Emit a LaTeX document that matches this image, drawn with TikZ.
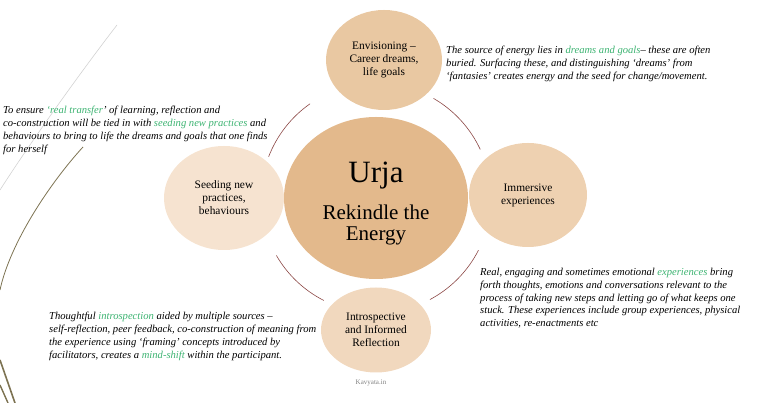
\documentclass[tikz,border=0pt]{standalone}
\usepackage{fontspec}
\setmainfont{Liberation Serif}
\usetikzlibrary{shapes.geometric}
\definecolor{urjatan}{RGB}{227,185,140}
\definecolor{envtan}{RGB}{233,200,162}
\definecolor{immtan}{RGB}{238,209,177}
\definecolor{reftan}{RGB}{241,216,190}
\definecolor{seedtan}{RGB}{246,227,208}
\definecolor{arcred}{RGB}{140,72,70}
\definecolor{keygreen}{RGB}{60,179,113}
\definecolor{swoosh}{RGB}{125,115,82}
\newcommand{\hl}[1]{\textcolor{keygreen}{#1}}
\begin{document}
\begin{tikzpicture}[x=1pt,y=1pt,
    bubble/.style={ellipse,inner sep=0pt,align=center,font=\fontsize{11.4}{13}\selectfont},
    note/.style={anchor=north west,inner sep=0pt,align=left,font=\fontsize{10.6}{12.8}\selectfont\itshape},
    link/.style={draw=arcred,line width=0.6pt}]
\useasboundingbox(0,0)rectangle(768,403);
% side swooshes
\draw[gray!35,line width=0.6pt](117,378)..controls(80,330)and(30,260)..(0,213);
\draw[swoosh,line width=0.8pt](83,256)..controls(50,220)and(10,160)..(0,113);
\draw[swoosh,line width=1.6pt](0,43)--(15,0);
\draw[swoosh,line width=1.4pt](0,18)--(8,0);
% circles
\node[bubble,fill=urjatan,minimum width=184pt,minimum height=162pt](urja)at(376,205){};
\node[align=center,font=\fontsize{21}{22}\selectfont](urjatitle)at([yshift=-6pt]urja.center){%
    \fontsize{31}{34}\selectfont Urja\\[15pt]Rekindle the\\[-1pt]Energy};
\node[bubble,fill=envtan,minimum width=116pt,minimum height=100pt](envision)at(384,343){Envisioning –\\Career dreams,\\life goals};
\node[bubble,fill=immtan,minimum width=118pt,minimum height=104pt](immerse)at(528,208){Immersive\\experiences};
\node[bubble,fill=reftan,minimum width=110pt,minimum height=85pt](reflect)at(376,73){Introspective\\and Informed\\Reflection};
\node[bubble,fill=seedtan,minimum width=120pt,minimum height=104pt](seed)at(224,205){Seeding new\\practices,\\behaviours};
% arcs between circles
\draw[link]([shift={(125:115pt)}]urja.center)arc[start angle=125,end angle=159,radius=115pt];
\draw[link]([shift={(60:115pt)}]urja.center)arc[start angle=60,end angle=25,radius=115pt];
\draw[link]([shift={(-27:115pt)}]urja.center)arc[start angle=-27,end angle=-62,radius=115pt];
\draw[link]([shift={(210:115pt)}]urja.center)arc[start angle=210,end angle=243,radius=115pt];
% notes
\node[note](envnote)at(446,357){The source of energy lies in \hl{dreams and goals}– these are often\\
    buried. Surfacing these, and distinguishing ‘dreams’ from\\
    ‘fantasies’ creates energy and the seed for change/movement.};
\node[note](seednote)at(3,297){To ensure \hl{‘real transfer}’ of learning, reflection and\\
    co-construction will be tied in with \hl{seeding new practices} and\\
    behaviours to bring to life the dreams and goals that one finds\\
    for herself};
\node[note](immnote)at(480,135){Real, engaging and sometimes emotional \hl{experiences} bring\\
    forth thoughts, emotions and conversations relevant to the\\
    process of taking new steps and letting go of what keeps one\\
    stuck. These experiences include group experiences, physical\\
    activities, re-enactments etc};
\node[note](refnote)at(49,91){Thoughtful \hl{introspection} aided by multiple sources –\\
    self-reflection, peer feedback, co-construction of meaning from\\
    the experience using ‘framing’ concepts introduced by\\
    facilitators, creates a \hl{mind-shift} within the participant.};
\node[text=gray,font=\fontsize{7}{8}\selectfont](site)at(371,20){Kavyata.in};
\end{tikzpicture}
\end{document}
